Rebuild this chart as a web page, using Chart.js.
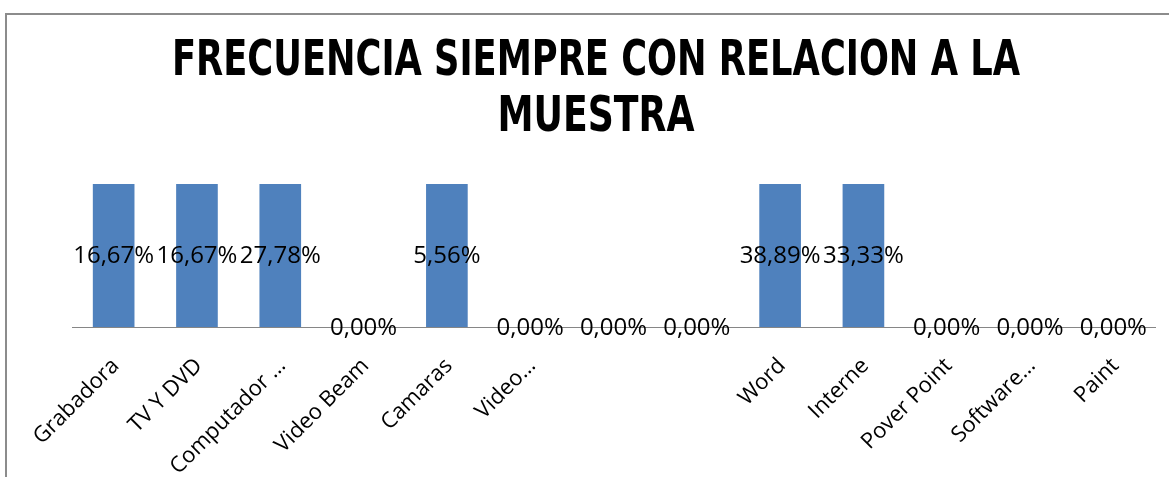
<!DOCTYPE html>
<html>
<head>
<meta charset="utf-8">
<script src="https://cdn.jsdelivr.net/npm/chart.js@4.4.1/dist/chart.umd.min.js"></script>
<style>
  html, body { margin: 0; padding: 0; background: #fff; overflow: hidden; }
  #wrap { position: relative; width: 1169px; height: 477px; }
  #frame {
    position: absolute; left: 5px; top: 13px; right: -10px; bottom: -10px;
    border-left: 2px solid #8c8c8c; border-top: 2px solid #8c8c8c;
    pointer-events: none;
  }
  canvas { position: absolute; left: 0; top: 0; }
</style>
</head>
<body>
<div id="wrap">
  <canvas id="chart" width="1169" height="477"></canvas>
  <div id="frame"></div>
</div>
<script>
const TITLE_LINES = ["FRECUENCIA SIEMPRE CON RELACION A LA", "MUESTRA"];

const categories = [
  "Grabadora", "TV Y DVD", "Computador …", "Video Beam", "Camaras", "Video…",
  "", "", "Word", "Interne", "Pover Point", "Software…", "Paint"
];

// porcentajes (%)
const siempre = [16.67, 16.67, 27.78, 0, 5.56, 0, 0, 0, 38.89, 33.33, 0, 0, 0];

// el eje del original esta cortado: todas las barras llegan al tope
const Y_MAX = 5;

const BAR_COLOR = "#4f81bd";

// titulo estrecho (tipo Calibri bold), dibujado a mano para poder comprimirlo
const narrowTitle = {
  id: "narrowTitle",
  afterDraw(chart) {
    const { ctx } = chart;
    ctx.save();
    ctx.font = "bold 50px 'DejaVu Sans Condensed', 'DejaVu Sans', sans-serif";
    ctx.fillStyle = "#000";
    ctx.textAlign = "center";
    ctx.textBaseline = "middle";
    const cx = 596;
    const lines = [[TITLE_LINES[0], 62], [TITLE_LINES[1], 118]];
    lines.forEach(([txt, y]) => {
      const w = ctx.measureText(txt).width;
      const target = txt === TITLE_LINES[0] ? 848 : 197;
      const sx = Math.min(1, target / w);
      ctx.save();
      ctx.translate(cx, y);
      ctx.scale(sx, 1);
      ctx.fillText(txt, 0, 0);
      ctx.restore();
    });
    ctx.restore();
  }
};

// etiquetas de valor en el centro de la parte visible de cada barra
const valueLabels = {
  id: "valueLabels",
  afterDatasetsDraw(chart) {
    const { ctx, chartArea } = chart;
    const meta = chart.getDatasetMeta(0);
    ctx.save();
    ctx.font = "24px 'Open Sans', sans-serif";
    ctx.fillStyle = "#000";
    ctx.textAlign = "center";
    ctx.textBaseline = "middle";
    meta.data.forEach((bar, i) => {
      const top = Math.max(bar.y, chartArea.top);
      const y = (top + bar.base) / 2;
      const txt = siempre[i].toFixed(2).replace(".", ",") + "%";
      ctx.fillText(txt, bar.x, y + 1);
    });
    ctx.restore();
  }
};

const ctx = document.getElementById("chart").getContext("2d");
new Chart(ctx, {
  type: "bar",
  data: {
    labels: categories,
    datasets: [{
      label: "Siempre",
      data: siempre,
      backgroundColor: BAR_COLOR,
      borderWidth: 0,
      barPercentage: 0.5,
      categoryPercentage: 1.0,
      clip: 0,
    }],
  },
  options: {
    responsive: false,
    animation: false,
    layout: { padding: { left: 72, right: 14, top: 184, bottom: 0 } },
    plugins: {
      legend: { display: false },
      tooltip: { enabled: false },
      title: { display: false },
    },
    scales: {
      x: {
        grid: { display: false },
        border: { display: true, color: "#868686", width: 1 },
        ticks: {
          color: "#000",
          font: { family: "'Open Sans', sans-serif", size: 22 },
          maxRotation: 45,
          minRotation: 45,
          autoSkip: false,
          padding: 18,
          labelOffset: 2,
        },
        afterFit(scale) { scale.height = 150; },
      },
      y: {
        display: false,
        min: 0,
        max: Y_MAX,
      },
    },
  },
  plugins: [valueLabels, narrowTitle],
});
</script>
</body>
</html>
